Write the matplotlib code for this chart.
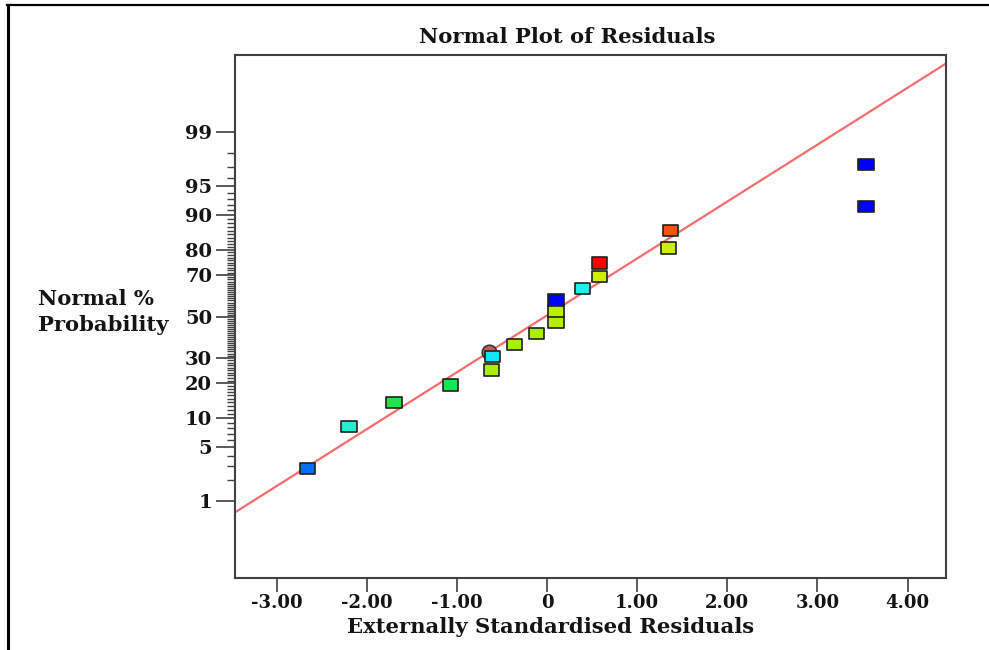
import numpy as np
import matplotlib
matplotlib.use("Agg")
import matplotlib.pyplot as plt
from matplotlib.path import Path
from matplotlib.lines import Line2D
from statistics import NormalDist

# ---------------- data ----------------
residuals = [-2.66, -2.20, -1.70, -1.07, -0.62, -0.61, -0.36, -0.12,
             0.10, 0.10, 0.10, 0.39, 0.58, 0.58, 1.35, 1.37, 3.54, 3.54]
probability = [2.8, 8.3, 13.9, 19.4, 25.0, 30.6, 36.1, 41.7,
               47.2, 52.8, 58.3, 63.9, 69.4, 75.0, 80.6, 86.1, 91.7, 97.2]
point_colors = ["#0A6CFA", "#22F0D2", "#1EE646", "#14E654", "#A6F000", "#14E4FA",
                "#A8F000", "#AAF000", "#B4F000", "#B8F000", "#0000FF", "#1EF0F0",
                "#D0F000", "#FF0000", "#CCF000", "#FF5200", "#0000FF", "#0000FF"]
circle_residual = [-0.65]
circle_probability = [32.6]
fit_residual = [-3.5, 4.5]
fit_probability = [0.635, 99.94]

x_ticks = [-3, -2, -1, 0, 1, 2, 3, 4]
x_tick_labels = ["-3.00", "-2.00", "-1.00", "0", "1.00", "2.00", "3.00", "4.00"]
y_major = [1, 5, 10, 20, 30, 50, 70, 80, 90, 95, 99]
y_minor = [v for v in range(1, 100) if v not in y_major]

# ---------------- probability scale ----------------
nd = NormalDist()

def fwd(p):
    p = np.asarray(p, dtype=float)
    flat = []
    for v in p.ravel():
        if not np.isfinite(v):
            flat.append(np.nan)
        else:
            q = min(max(v / 100.0, 1e-12), 1 - 1e-12)
            flat.append(nd.inv_cdf(q))
    return np.array(flat).reshape(p.shape)

def inv(z):
    z = np.asarray(z, dtype=float)
    flat = [nd.cdf(v) * 100.0 if np.isfinite(v) else np.nan for v in z.ravel()]
    return np.array(flat).reshape(z.shape)

W, H = 989, 650
fig = plt.figure(figsize=(W / 100, H / 100), dpi=100)
fig.patch.set_facecolor("white")

left, right, top, bottom = 235, 946, 54.5, 578
ax = fig.add_axes([left / W, 1 - bottom / H, (right - left) / W, (bottom - top) / H])
ax.set_yscale("function", functions=(fwd, inv))
ax.set_xlim(-3.464, 4.427)
ax.set_ylim(float(inv(-3.293)), float(inv(3.30)))

spine_c = "#404040"
for s in ax.spines.values():
    s.set_color(spine_c)
    s.set_linewidth(1.5)

font = dict(family="DejaVu Serif", weight="bold")
txt_c = "#141414"

ax.set_xticks(x_ticks)
ax.set_xticklabels(x_tick_labels, fontsize=13, color=txt_c, **font)
ax.set_yticks(y_major)
ax.set_yticklabels([str(v) for v in y_major], fontsize=14, color=txt_c, **font)
ax.set_yticks(y_minor, minor=True)
ax.set_xticks([], minor=True)
ax.tick_params(axis="y", which="major", length=13.5, width=1.2, color=spine_c, pad=3)
ax.tick_params(axis="x", which="major", length=10, width=1.2, color=spine_c, pad=1.5)
ax.tick_params(axis="y", which="minor", length=6, width=1.0, color=spine_c)

# fit line
ax.plot(fit_residual, fit_probability, color="#F76C6C", lw=1.6, zorder=1)

# circle marker (beneath squares)
ax.scatter(circle_residual, circle_probability, marker="o", s=10.5 ** 2,
           c="#C25C5C", edgecolors="#303030", linewidths=1.1, zorder=2)

# rectangular markers
rect = Path([(-1, -0.74), (1, -0.74), (1, 0.74), (-1, 0.74), (-1, -0.74)],
            [Path.MOVETO, Path.LINETO, Path.LINETO, Path.LINETO, Path.CLOSEPOLY])
ax.scatter(residuals, probability, marker=rect, s=11 ** 2, c=point_colors,
           edgecolors="#202020", linewidths=1.2, zorder=3)

# titles and labels
fig.text(567 / W, 1 - 37 / H, "Normal Plot of Residuals", ha="center", va="center",
         fontsize=15.2, color=txt_c, **font)
fig.text(551 / W, 1 - 627 / H, "Externally Standardised Residuals", ha="center",
         va="center", fontsize=15.2, color=txt_c, **font)
fig.text(38 / W, 1 - 312 / H, "Normal %\nProbability", ha="left", va="center",
         fontsize=15.2, color=txt_c, linespacing=1.4, **font)

# outer frame (left and top edges)
fig.add_artist(Line2D([8 / W, 8 / W], [0, 1 - 5 / H], transform=fig.transFigure,
                      color="black", lw=2.2))
fig.add_artist(Line2D([7 / W, 1], [1 - 5 / H, 1 - 5 / H], transform=fig.transFigure,
                      color="black", lw=1.6))

fig.savefig("out.png", dpi=100, facecolor="white")
